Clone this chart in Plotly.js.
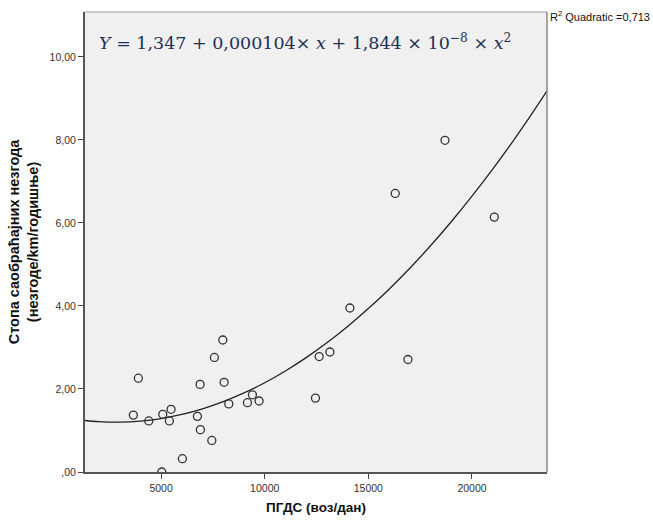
<!DOCTYPE html>
<html>
<head>
<meta charset="utf-8">
<script src="https://cdn.plot.ly/plotly-3.0.1.min.js"></script>
<style>html,body{margin:0;padding:0;background:#fff;}#chart{width:653px;height:521px;}</style>
</head>
<body>
<div id="chart"></div>
<script>
// Observed points: ПГДС (воз/дан) vs accident rate
const pgds = [3663, 3904, 4406, 5082, 5483, 5401, 5034, 6029, 6753, 6883, 6897, 7448, 7573, 7978, 8042, 8268, 9166, 9408, 9731, 12449, 12628, 13145, 14110, 16910, 16297, 18697, 21077];
const rate = [1.37, 2.26, 1.23, 1.39, 1.51, 1.23, 0.00, 0.32, 1.34, 2.11, 1.02, 0.76, 2.76, 3.18, 2.16, 1.64, 1.67, 1.86, 1.71, 1.78, 2.78, 2.89, 3.95, 2.71, 6.71, 7.99, 6.14];

// Quadratic fit curve samples
const fitX = [1330, 2000, 3000, 4000, 5000, 6000, 7000, 8000, 9000, 10000, 11000, 12000, 13000, 14000, 15000, 16000, 17000, 18000, 19000, 20000, 21000, 22000, 23000, 23620];
const fitY = [1.241, 1.213, 1.201, 1.226, 1.288, 1.387, 1.523, 1.695, 1.905, 2.151, 2.434, 2.754, 3.111, 3.505, 3.936, 4.404, 4.908, 5.450, 6.028, 6.643, 7.295, 7.984, 8.710, 9.179];

const yTickVals = [0, 2, 4, 6, 8, 10];
const yTickText = [",00", "2,00", "4,00", "6,00", "8,00", "10,00"];
const xTickVals = [5000, 10000, 15000, 20000];
const xTickText = ["5000", "10000", "15000", "20000"];

const traces = [
  {x: fitX, y: fitY, type: 'scatter', mode: 'lines', line: {color: '#222', width: 1.3, shape: 'spline'}, hoverinfo: 'skip'},
  {x: pgds, y: rate, type: 'scatter', mode: 'markers', marker: {symbol: 'circle-open', size: 8, color: '#333', line: {width: 1.3, color: '#333'}}}
];

const layout = {
  width: 653, height: 521,
  margin: {l: 85, r: 106, t: 12, b: 49},
  paper_bgcolor: '#ffffff',
  plot_bgcolor: '#f0f0f0',
  showlegend: false,
  font: {family: 'Liberation Sans, Arial, sans-serif', size: 10, color: '#333'},
  xaxis: {
    range: [1330, 23620], showgrid: false, zeroline: false,
    tickvals: xTickVals, ticktext: xTickText,
    ticks: 'outside', ticklen: 5, tickcolor: '#444', tickwidth: 1,
    showline: true, linecolor: '#555', linewidth: 2, mirror: false,
    tickfont: {size: 10.5, color: '#333'},
    title: {text: '<b>ПГДС (воз/дан)</b>', font: {size: 13.5, color: '#111'}, standoff: 10}
  },
  yaxis: {
    range: [0, 11.08], showgrid: false, zeroline: false,
    tickvals: yTickVals, ticktext: yTickText,
    ticks: 'outside', ticklen: 5, tickcolor: '#444', tickwidth: 1,
    showline: true, linecolor: '#555', linewidth: 2, mirror: false,
    tickfont: {size: 10.5, color: '#333'},
    title: {text: '<b>Стопа саобраћајних незгода<br>(незгоде/km/годишње)</b>', font: {size: 14.5, color: '#111'}, standoff: 8}
  },
  shapes: [
    {type: 'line', xref: 'paper', yref: 'paper', x0: 0, x1: 1, y0: 1, y1: 1, line: {color: '#999', width: 1}},
    {type: 'line', xref: 'paper', yref: 'paper', x0: 1, x1: 1, y0: 0, y1: 1, line: {color: '#888', width: 1.5}}
  ],
  annotations: [
    {xref: 'paper', yref: 'paper', x: 0.025, y: 0.935, xanchor: 'left', yanchor: 'middle', showarrow: false,
     text: '<i>Y</i> = 1,347 + 0,000104× <i>x</i> + 1,844 × 10<sup>−8</sup> × <i>x</i><sup>2</sup>',
     font: {family: 'DejaVu Serif, Liberation Serif, serif', size: 17.5, color: '#1f2f55'}},
    {xref: 'paper', yref: 'paper', x: 1.002, y: 1.01, xanchor: 'left', yanchor: 'top', showarrow: false,
     text: 'R<sup>2</sup> Quadratic =0,713', font: {family: 'Liberation Sans, Arial, sans-serif', size: 11, color: '#111'}}
  ]
};

Plotly.newPlot('chart', traces, layout, {displayModeBar: false, staticPlot: true});
</script>
</body>
</html>
